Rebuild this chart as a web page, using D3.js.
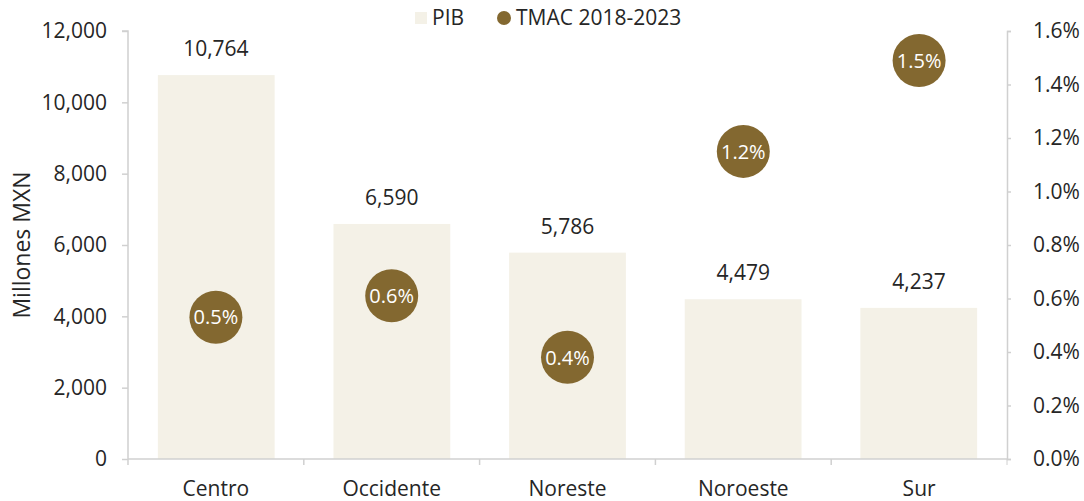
<!DOCTYPE html>
<html><head><meta charset="utf-8">
<script src="https://cdn.jsdelivr.net/npm/d3@7"></script>
<style>
body{margin:0;background:#fff;}
text{font-family:"Open Sans","Noto Sans",sans-serif;fill:#262626;}
</style></head>
<body><svg id="c" width="1084" height="501"></svg>
<script>
const categories = ["Centro","Occidente","Noreste","Noroeste","Sur"];
const pib = [10764, 6590, 5786, 4479, 4237];
const tmac = [0.53, 0.61, 0.38, 1.15, 1.49];
const tmacLabels = ["0.5%","0.6%","0.4%","1.2%","1.5%"];
const leftTicks = [0,2000,4000,6000,8000,10000,12000];
const rightTicks = [0,0.2,0.4,0.6,0.8,1.0,1.2,1.4,1.6];

const svg = d3.select("#c");
const L=128, R=1007, T=31, B=459;
const barColor="#f4f1e7", dotColor="#836830", axisColor="#d0d0d0";
const FS="21px";

const x = d3.scaleBand().domain(categories).range([L,R]).paddingInner(0.335).paddingOuter(0.17);
const xb = d3.scaleBand().domain(categories).range([L,R]);
const y = d3.scaleLinear().domain([0,12000]).range([B,T]);
const y2 = d3.scaleLinear().domain([0,1.6]).range([B,T]);

// bars
svg.selectAll("rect.bar").data(categories).enter().append("rect")
 .attr("x",d=>x(d)).attr("width",x.bandwidth())
 .attr("y",(d,i)=>y(pib[i])).attr("height",(d,i)=>B-y(pib[i]))
 .attr("fill",barColor);

// value labels
svg.selectAll("text.val").data(categories).enter().append("text")
 .attr("x",d=>xb(d)+xb.bandwidth()/2).attr("y",(d,i)=>y(pib[i])-19)
 .attr("text-anchor","middle").style("font-size",FS)
 .text((d,i)=>d3.format(",")(pib[i]));

// left axis
const ga = svg.append("g").attr("transform",`translate(${L},0)`)
 .call(d3.axisLeft(y).tickValues(leftTicks).tickFormat(d3.format(",")).tickSize(6).tickPadding(15));
// right axis
const gr = svg.append("g").attr("transform",`translate(${R},0)`)
 .call(d3.axisRight(y2).tickValues(rightTicks).tickFormat(d=>d.toFixed(1)+"%").tickSize(4).tickPadding(22));
// bottom axis
const gb = svg.append("g").attr("transform",`translate(0,${B})`)
 .call(d3.axisBottom(xb).tickSize(0).tickPadding(22));
gb.selectAll(".tick").append("line").attr("x1",-xb.bandwidth()/2).attr("x2",-xb.bandwidth()/2).attr("y1",0).attr("y2",6).attr("stroke",axisColor);
gb.append("line").attr("x1",R).attr("x2",R).attr("y1",0).attr("y2",6).attr("stroke",axisColor);
[ga,gr,gb].forEach(g=>{
  g.selectAll("path.domain").attr("stroke",axisColor).attr("stroke-width",1.5);
  g.selectAll(".tick line").attr("stroke",axisColor).attr("stroke-width",1.5);
  g.selectAll("text").style("font-size",FS).attr("fill","#262626").style("font-family",'"Open Sans","Noto Sans",sans-serif');
});
gb.select("path.domain").attr("d",`M${L},0H${R}`);
ga.select("path.domain").attr("d",`M-6,${T}H0V${B}`);

// axis title
svg.append("text").attr("transform",`translate(30,${(T+B)/2}) rotate(-90)`)
 .attr("text-anchor","middle").style("font-size","23px").text("Millones MXN");

// bubbles
const gd = svg.selectAll("g.dot").data(categories).enter().append("g")
 .attr("transform",(d,i)=>`translate(${xb(d)+xb.bandwidth()/2},${y2(tmac[i])})`);
gd.append("circle").attr("r",26.5).attr("fill",dotColor);
gd.append("text").attr("text-anchor","middle").attr("dy","0.36em")
 .style("font-size","20px").style("fill","#fff").text((d,i)=>tmacLabels[i]);

// legend
const lg = svg.append("g");
lg.append("rect").attr("x",415).attr("y",12).attr("width",12).attr("height",12).attr("fill",barColor);
lg.append("text").attr("x",432).attr("y",25).style("font-size",FS).text("PIB");
lg.append("circle").attr("cx",504).attr("cy",18).attr("r",7).attr("fill",dotColor);
lg.append("text").attr("x",516).attr("y",25).style("font-size",FS).text("TMAC 2018-2023");
</script></body></html>
